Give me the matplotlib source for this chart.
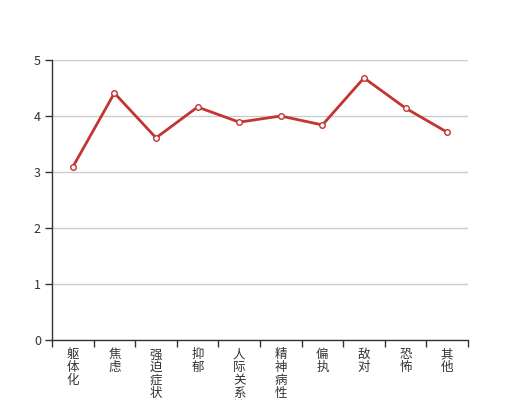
import matplotlib
matplotlib.use("Agg")
import matplotlib.pyplot as plt
from matplotlib.ticker import FixedLocator, NullFormatter

plt.rcParams['font.family'] = ['Noto Sans CJK SC', 'DejaVu Sans']

categories = ["躯体化", "焦虑", "强迫症状", "抑郁", "人际关系敏感", "精神病性", "偏执", "敌对", "恐怖", "其他"]
values = [3.09, 4.41, 3.61, 4.16, 3.89, 4.00, 3.84, 4.68, 4.14, 3.71]
yticks = [0, 1, 2, 3, 4, 5]

fig = plt.figure(figsize=(5.2, 4.0), dpi=100)
ax = fig.add_axes([52/520, 1 - 340/400, 416/520, 280/400])

n = len(categories)
xs = list(range(n))
ax.plot(xs, values, color='#c23531', lw=2, marker='o', ms=4,
        mfc='white', mec='#c23531', mew=1, zorder=3, clip_on=False)

ax.set_xlim(-0.5, n - 0.5)
ax.set_ylim(0, 5)
ax.set_yticks(yticks)
ax.yaxis.grid(True, color='#cccccc', lw=1)
ax.set_axisbelow(True)
for s in ['top', 'right']:
    ax.spines[s].set_visible(False)
for s in ['left', 'bottom']:
    ax.spines[s].set_color('#333333')
    ax.spines[s].set_linewidth(1)

ax.tick_params(axis='y', colors='#333333', labelcolor='#333333', labelsize=9,
               length=5, width=1, direction='out', pad=3)

# category boundary ticks
ax.xaxis.set_major_locator(FixedLocator([i - 0.5 for i in range(n + 1)]))
ax.xaxis.set_major_formatter(NullFormatter())
ax.tick_params(axis='x', colors='#333333', length=5, width=1, direction='out')

for i, c in enumerate(categories):
    ax.annotate("\n".join(c), xy=(i, 0), xycoords=('data', 'axes fraction'),
                xytext=(0, -6), textcoords='offset points',
                ha='center', va='top', fontsize=9, color='#333333',
                linespacing=0.98, annotation_clip=False)

fig.savefig("out.png", dpi=100)
